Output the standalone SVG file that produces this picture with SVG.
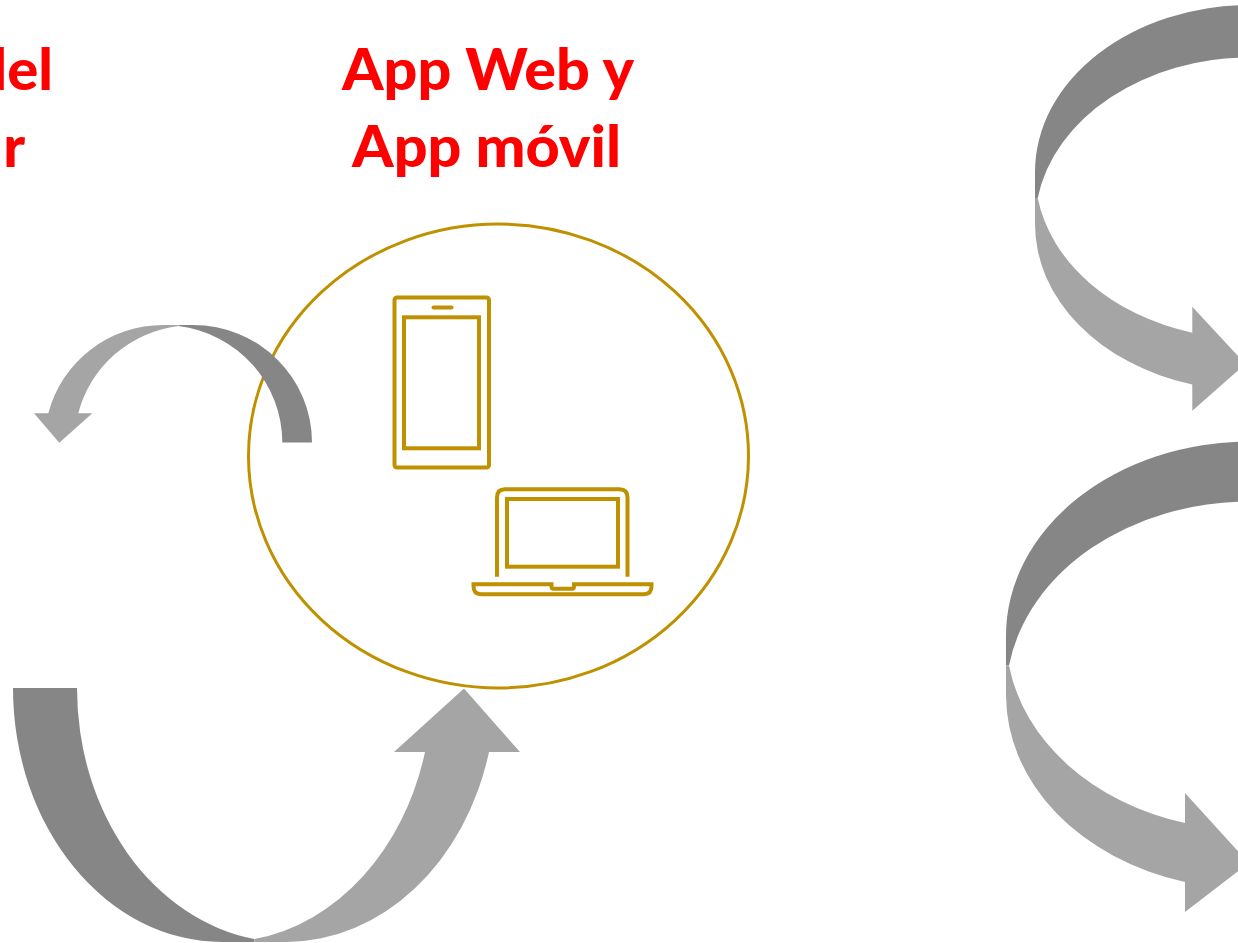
<svg xmlns="http://www.w3.org/2000/svg" width="1238" height="943" viewBox="0 0 1238 943">
<style>
.t{font-family:"Lato","Carlito","Liberation Sans",sans-serif;font-weight:900;font-size:58px;fill:#ff0000}
.g{fill:none;stroke:#bf9000;stroke-width:4}
.d{fill:#868686}
.l{fill:#a5a5a5}
</style>
<rect width="1238" height="943" fill="#ffffff"/>
<g id="label-left">
<text class="t" x="53" y="90" text-anchor="end">del</text>
<text class="t" x="25" y="167" text-anchor="end">r</text>
</g>
<g id="label-app">
<text class="t" x="342" y="90" textLength="292" lengthAdjust="spacingAndGlyphs">App Web y</text>
<text class="t" x="352" y="167" textLength="269" lengthAdjust="spacingAndGlyphs">App móvil</text>
</g>
<g id="node-app">
<ellipse cx="498.5" cy="456" rx="250" ry="232" fill="none" stroke="#bf9000" stroke-width="3"/>
<g id="phone">
<rect class="g" x="394.5" y="297.5" width="94.5" height="170" rx="2.5"/>
<rect class="g" x="404" y="317.3" width="75" height="131"/>
<path class="g" stroke-linecap="round" d="M433.5 307.5H451.5"/>
</g>
<g id="laptop">
<path class="g" d="M497 576.7V497.5Q497 489.2 505 489.2H619.5Q627.5 489.2 627.5 497.5V576.7"/>
<rect class="g" x="507" y="499" width="111" height="67.7"/>
<path class="g" d="M473.5 584.2H551.5V586.5Q551.5 588.7 553.5 588.7H572Q574 588.7 574 586.5V584.2H651.5V586Q651.5 594.2 644 594.2H481Q473.5 594.2 473.5 586Z"/>
</g>
</g>
<g id="connectors">
<g id="arrow-small">
<path class="d" d="M312 442.5A118.7 117.5 0 0 0 193.3 325H178.4L178.4 325.9A118.9 117.5 0 0 1 282.3 442.5Z"/>
<path class="l" d="M178.4 325.9L178.4 325H163.4A118.9 117.5 0 0 0 48.3 413.3L34 413.3L59.3 442.7L92.3 413.3L78.3 413.3A118.7 117.5 0 0 1 178.4 325.9Z"/>
</g>
<g id="arrow-bottom">
<path class="d" d="M13 688A209 254 0 0 0 222 942H254.5V939A210 254 0 0 1 77 688Z"/>
<path class="l" d="M254.5 939V942H287A210 254 0 0 0 489 752L520 752L464 688.5L394 752L425 752A209 254 0 0 1 254.5 939Z"/>
</g>
<g id="arrow-right-top">
<path class="d" d="M1250 5A215 167 0 0 0 1035 172V198H1037.7A215 166.5 0 0 1 1250 57.5Z"/>
<path class="l" d="M1037.7 198H1035V224A215 166.5 0 0 0 1192.3 384.5L1192.3 410.7L1245.5 364L1192.3 306.7L1192.3 332.7A215 167 0 0 1 1037.7 198Z"/>
</g>
<g id="arrow-right-bottom">
<path class="d" d="M1250 441.5A244 194 0 0 0 1006 635.5V665.5H1009A244 194 0 0 1 1250 501.5Z"/>
<path class="l" d="M1009 665.5H1006V695.5A244 194 0 0 0 1185 882L1185 912L1248.7 863L1185 793L1185 823A244 194 0 0 1 1009 665.5Z"/>
</g>
</g>
</svg>
